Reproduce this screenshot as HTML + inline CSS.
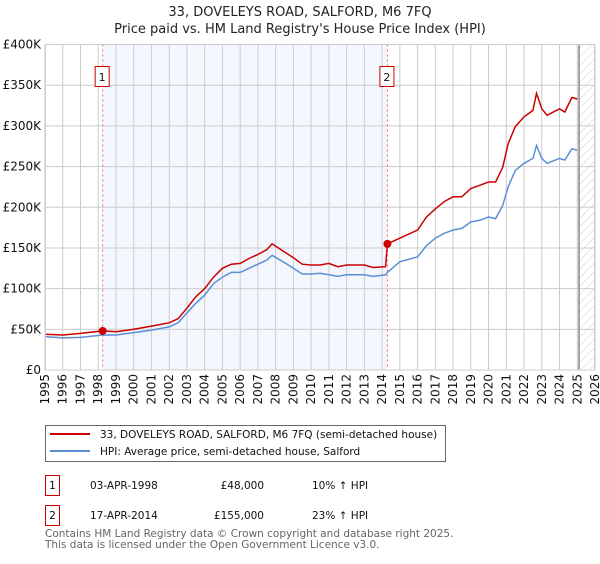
<!DOCTYPE html>
<html><head><meta charset="utf-8"><style>
body{margin:0;background:#fff;font-family:"DejaVu Sans","Liberation Sans",sans-serif}
svg text{font-family:"DejaVu Sans","Liberation Sans",sans-serif}
</style></head><body>
<svg id="c" width="600" height="560" viewBox="0 0 600 560" xmlns="http://www.w3.org/2000/svg">
<defs><pattern id="hatch" width="6" height="6" patternUnits="userSpaceOnUse" patternTransform="rotate(45)"><line x1="0" y1="0" x2="0" y2="6" stroke="#ccc" stroke-width="1"/></pattern></defs>
<text x="300" y="16" text-anchor="middle" font-size="13" fill="#222">33, DOVELEYS ROAD, SALFORD, M6 7FQ</text>
<text x="300" y="33" text-anchor="middle" font-size="13" fill="#222">Price paid vs. HM Land Registry's House Price Index (HPI)</text>
<g id="plot"></g>
<g>
<rect x="45.5" y="425.5" width="400" height="36" fill="#fff" stroke="#666"/>
<line x1="50" y1="434" x2="90" y2="434" stroke="#cc0000" stroke-width="2"/>
<text x="100" y="438" font-size="10.5" fill="#111">33, DOVELEYS ROAD, SALFORD, M6 7FQ (semi-detached house)</text>
<line x1="50" y1="451" x2="90" y2="451" stroke="#5b8fd4" stroke-width="2"/>
<text x="100" y="455" font-size="10.5" fill="#111">HPI: Average price, semi-detached house, Salford</text>
</g>
<g font-size="10.5" fill="#111">
<rect x="45.5" y="475.5" width="14" height="20" fill="#fff" stroke="#cc0000"/><text x="52.5" y="489" text-anchor="middle">1</text>
<text x="90" y="489">03-APR-1998</text><text x="264" y="489" text-anchor="end">£48,000</text><text x="312" y="489">10% ↑ HPI</text>
<rect x="45.5" y="505.5" width="14" height="20" fill="#fff" stroke="#cc0000"/><text x="52.5" y="519" text-anchor="middle">2</text>
<text x="90" y="519">17-APR-2014</text><text x="264" y="519" text-anchor="end">£155,000</text><text x="312" y="519">23% ↑ HPI</text>
</g>
<text x="45" y="537" font-size="10.5" fill="#666">Contains HM Land Registry data © Crown copyright and database right 2025.</text>
<text x="45" y="548" font-size="10.5" fill="#666">This data is licensed under the Open Government Licence v3.0.</text>
</svg>
<script>
const hpiYears=[1995,1996,1997,1998.25,1999,2000,2001,2002,2002.5,2003,2003.5,2004,2004.5,2005,2005.5,2006,2006.5,2007,2007.5,2007.8,2008.5,2009,2009.5,2010,2010.5,2011,2011.5,2012,2013,2013.5,2014.2,2014.3,2015,2016,2016.5,2017,2017.5,2018,2018.5,2019,2019.5,2020,2020.4,2020.8,2021.1,2021.5,2022,2022.5,2022.7,2023,2023.3,2024,2024.3,2024.7,2025];
const hpiValues=[41,39.5,40,43,43,46,49,53,58,70,82,92,106,114,120,120,125,130,135,141,132,125,118,118,119,117,115,117,117,115,117,120,133,139,153,162,168,172,174,182,184,188,186,202,225,245,254,260,276,260,254,260,258,272,270];
const priceValues=[44,43,45,48,47,50,54,58,63,76,90,100,114,125,130,131,137,142,148,155,145,138,130,129,129,131,127,129,129,126,127,155,162,172,188,198,207,213,213,223,227,231,231,249,278,299,311,319,340,321,313,321,317,335,333];
const yTicks=[0,50,100,150,200,250,300,350,400];
const yTickLabels=["£0","£50K","£100K","£150K","£200K","£250K","£300K","£350K","£400K"];
const sales=[{t:1998.25,v:48,label:"1"},{t:2014.3,v:155,label:"2"}];
const X0=45,X1=595,Y0=370,Y1=44.5,T0=1995,T1=2026,V1=400;
const x=t=>X0+(t-T0)/(T1-T0)*(X1-X0);
const y=v=>Y0-v/V1*(Y0-Y1);
const NS="http://www.w3.org/2000/svg";
const g=document.getElementById('plot');
function mk(tag,at,parent){const e=document.createElementNS(NS,tag);for(const k in at)e.setAttribute(k,at[k]);(parent||g).appendChild(e);return e;}
let e;
e=mk('rect',{x:X0,y:Y1,width:X1-X0,height:Y0-Y1,fill:'#fff'});


e=mk('rect',{x:x(sales[0].t),y:Y1,width:x(sales[1].t)-x(sales[0].t),height:Y0-Y1,fill:'#f3f6fd'});


e=mk('rect',{x:x(2025.1),y:Y1,width:X1-x(2025.1),height:Y0-Y1,fill:'url(#hatch)'});


for(let t=T0;t<=T1;t++){
 e=mk('line',{x1:x(t),x2:x(t),y1:Y1,y2:Y0,stroke:'#ccc','stroke-width':1});
 
 
 e=mk('text',{x:0,y:0,'font-size':12,fill:'#111','text-anchor':'end',transform:`translate(${x(t)+4},${Y0+4}) rotate(-90)`});
 e.textContent=t;
 
 
}
yTicks.forEach((v,i)=>{
 e=mk('line',{x1:X0,x2:X1,y1:y(v),y2:y(v),stroke:'#ccc','stroke-width':1});
 
 
 e=mk('text',{x:X0-4,y:y(v)+4,'font-size':12,fill:'#111','text-anchor':'end'});
 e.textContent=yTickLabels[i];
 
 
});
e=mk('line',{x1:x(2025.1),x2:x(2025.1),y1:Y1,y2:Y0,stroke:'#888','stroke-width':1.5});


sales.forEach(s=>{
 e=mk('line',{x1:x(s.t),x2:x(s.t),y1:Y1,y2:Y0,stroke:'#e66','stroke-width':1,'stroke-dasharray':'2,3'});
 
 
});
const pts=(vals)=>hpiYears.map((t,i)=>x(t).toFixed(1)+','+y(vals[i]).toFixed(1)).join(' ');
e=mk('polyline',{points:pts(hpiValues),fill:'none',stroke:'#5b8fd4','stroke-width':1.5});


e=mk('polyline',{points:pts(priceValues),fill:'none',stroke:'#cc0000','stroke-width':1.5});


sales.forEach(s=>{
 e=mk('circle',{cx:x(s.t),cy:y(s.v),r:4,fill:'#cc0000'});
 
 
 e=mk('rect',{x:x(s.t)-7.5,y:66.5,width:14,height:20,fill:'#fff',stroke:'#cc0000'});
 
 
 e=mk('text',{x:x(s.t)-0.5,y:81,'font-size':11,'text-anchor':'middle',fill:'#111'});
 e.textContent=s.label;
 
 
});
e=mk('rect',{x:X0+0.5,y:Y1,width:X1-X0-1,height:Y0-Y1,fill:'none',stroke:'#ccc'});


</script>
</body></html>
